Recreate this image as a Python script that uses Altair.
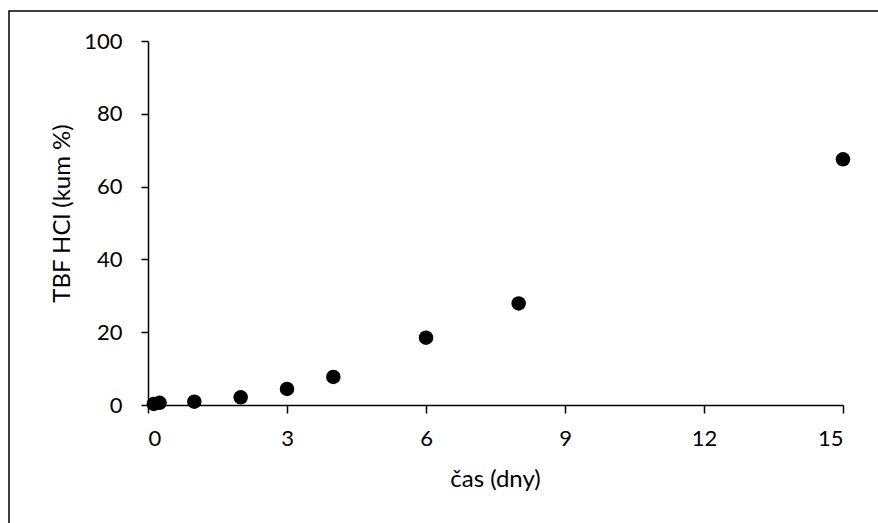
import altair as alt
import pandas as pd

days = [0.125, 0.25, 1, 2, 3, 4, 6, 8, 15]
tbf_hcl = [0.3, 0.6, 0.9, 2.1, 4.4, 7.7, 18.5, 27.9, 67.5]
x_ticks = [0, 3, 6, 9, 12, 15]
y_ticks = [0, 20, 40, 60, 80, 100]

df = pd.DataFrame({"cas": days, "tbf": tbf_hcl})
FONT = "Lato"

points = alt.Chart(df).mark_circle(size=210, color="black", opacity=1).encode(
    x=alt.X("cas:Q", title="čas (dny)",
            scale=alt.Scale(domain=[0, 15], nice=False, zero=False),
            axis=alt.Axis(values=x_ticks, grid=False, domainColor="black", tickColor="black",
                          tickSize=8, domainWidth=1.5, tickWidth=1.5, labelFontSize=22,
                          labelFont=FONT, labelColor="black", labelPadding=15,
                          titleFont=FONT, titleFontSize=24, titleFontWeight="normal",
                          titleColor="black", titleX=347, titleY=74,
                          titleBaseline="middle", titleAlign="center")),
    y=alt.Y("tbf:Q", title="TBF HCl (kum %)",
            scale=alt.Scale(domain=[0, 100], nice=False),
            axis=alt.Axis(values=y_ticks, grid=False, domainColor="black", tickColor="black",
                          tickSize=7, domainWidth=1.5, tickWidth=1.5, labelFontSize=22,
                          labelFont=FONT, labelColor="black", labelPadding=19,
                          titleFont=FONT, titleFontSize=24, titleFontWeight="normal",
                          titleColor="black", titleX=-86, titleY=172, titleAngle=270,
                          titleBaseline="middle", titleAlign="center")),
)

border = alt.Chart(pd.DataFrame({"a": [0]})).mark_rect(
    fill=None, fillOpacity=0, stroke="black", strokeWidth=1.5
).encode(
    x=alt.value(9 - 148), x2=alt.value(900 - 148),
    y=alt.value(11 - 41), y2=alt.value(560 - 41),
)

chart = alt.layer(border, points).properties(
    width=695, height=364,
    padding={"left": 148, "top": 41, "right": 35, "bottom": 118},
    autosize="none",
    view=alt.ViewBackground(strokeWidth=0, strokeOpacity=0),
).configure_view(strokeWidth=0, strokeOpacity=0).configure(background="white")

chart.save("out.html", embed_options={"renderer": "svg", "actions": False})
